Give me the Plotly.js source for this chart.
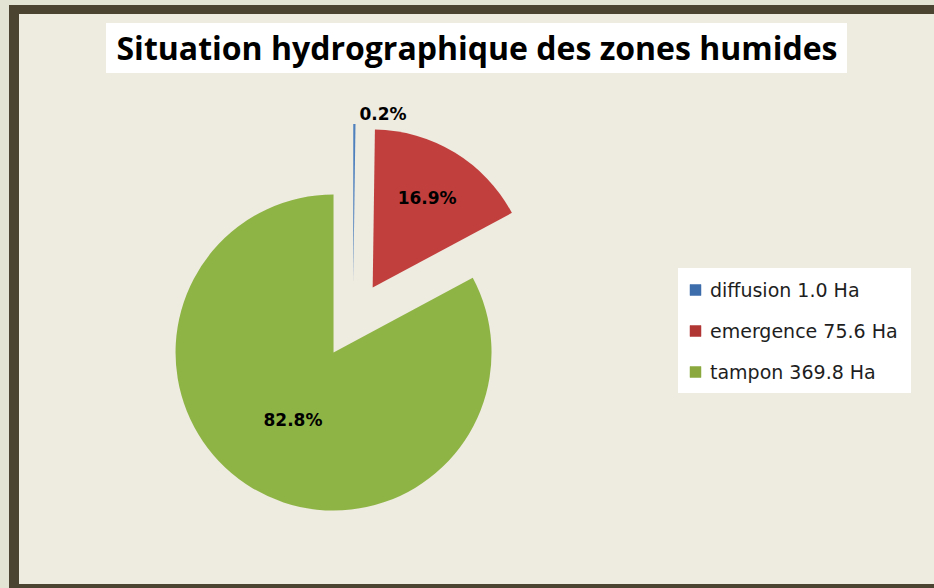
<!DOCTYPE html>
<html><head><meta charset="utf-8">
<script src="https://cdn.plot.ly/plotly-3.0.1.min.js"></script>
<style>html,body{margin:0;padding:0;background:#e4e4d4;} #chart{width:934px;height:588px;}</style>
</head><body><div id="chart"></div>
<script>
// ---- data ----
const categories = ['diffusion', 'emergence', 'tampon'];
const areasHa = [1.0, 75.6, 369.8];
const unitLabel = 'Ha';
const chartTitle = 'Situation hydrographique des zones humides';

// ---- styles ----
const sliceColors = ['#4f81bd', '#c13f3d', '#8fb446'];
const swatchColors = ['#3d6dab', '#b03634', '#8aa83e'];
const W = 934, H = 588;
const px = x => x / W;
const py = y => 1 - y / H;

const legendText = categories.map((c, i) => c + ' ' + areasHa[i].toFixed(1) + ' ' + unitLabel);

// pie box
const cx = 353, cy = 320, r = 158, pull = 0.24;
const half = r * (1 + pull);

const trace = {
  type: 'pie',
  labels: categories,
  values: areasHa,
  sort: false,
  direction: 'clockwise',
  rotation: 0,
  pull: [pull, pull, pull],
  marker: { colors: sliceColors, line: { color: 'rgba(0,0,0,0)', width: 0 } },
  texttemplate: '%{percent:.1%}',
  textposition: ['outside', 'inside', 'inside'],
  insidetextorientation: 'horizontal',
  textfont: { family: 'DejaVu Sans', size: 17, color: '#000', weight: 'bold' },
  hoverinfo: 'label+value+percent',
  showlegend: false,
  domain: { x: [px(cx - half), px(cx + half)], y: [py(cy + half), py(cy - half)] }
};

const shapes = [
  { type: 'rect', xref: 'paper', yref: 'paper', x0: px(9), x1: px(945), y0: py(600), y1: py(5),
    fillcolor: '#4a4430', line: { width: 0 }, layer: 'below' },
  { type: 'rect', xref: 'paper', yref: 'paper', x0: px(19), x1: px(945), y0: py(584), y1: py(14),
    fillcolor: '#eeebe1', line: { width: 0 }, layer: 'below' },
  { type: 'rect', xref: 'paper', yref: 'paper', x0: px(106), x1: px(847), y0: py(73), y1: py(23),
    fillcolor: '#ffffff', line: { width: 0 }, layer: 'below' },
  { type: 'rect', xref: 'paper', yref: 'paper', x0: px(678), x1: px(911), y0: py(393), y1: py(268),
    fillcolor: '#ffffff', line: { width: 0 }, layer: 'below' }
];

const rowY = [290, 331, 372];
const annotations = [];
categories.forEach((c, i) => {
  shapes.push({ type: 'rect', xref: 'paper', yref: 'paper',
    x0: px(690), x1: px(701), y0: py(rowY[i] + 5.5), y1: py(rowY[i] - 5.5),
    fillcolor: swatchColors[i], line: { color: swatchColors[i], width: 0.5 }, layer: 'above' });
  annotations.push({ xref: 'paper', yref: 'paper', x: px(708), y: py(rowY[i]),
    xanchor: 'left', yanchor: 'middle', showarrow: false, text: legendText[i],
    font: { family: 'DejaVu Sans', size: 19, color: '#1e1e1e' } });
});

const layout = {
  width: W, height: H,
  margin: { l: 0, r: 0, t: 0, b: 0 },
  paper_bgcolor: '#e4e4d4',
  title: { text: chartTitle, x: px(477), y: py(49), xanchor: 'center', yanchor: 'middle',
    xref: 'paper', yref: 'paper',
    font: { family: 'Open Sans', size: 32, color: '#000', weight: 'bold' } },
  shapes: shapes,
  annotations: annotations,
  showlegend: false
};

Plotly.newPlot('chart', [trace], layout, { displayModeBar: false, staticPlot: true });
</script>
</body></html>
